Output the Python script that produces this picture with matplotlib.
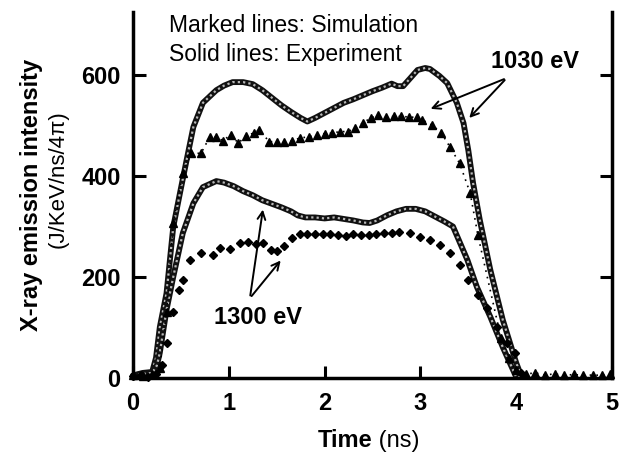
import matplotlib
matplotlib.use("Agg")
import matplotlib.pyplot as plt

plt.rcParams["font.family"] = ["Liberation Sans", "DejaVu Sans"]

# 1030 eV experiment (solid line)
exp1030_t = [0.00, 0.10, 0.20, 0.24, 0.28, 0.35, 0.42, 0.49, 0.56, 0.63, 0.73, 0.87,
             0.95, 1.04, 1.15, 1.25, 1.35, 1.45, 1.55, 1.65, 1.75, 1.82, 1.90, 2.00,
             2.10, 2.20, 2.30, 2.40, 2.50, 2.60, 2.70, 2.76, 2.82, 2.90, 2.97, 3.05, 3.10,
             3.20, 3.28, 3.38, 3.45, 3.50, 3.55, 3.62, 3.73, 3.86, 4.00, 4.05]
exp1030_v = [5, 10, 12, 40, 101, 168, 299, 366, 432, 497, 545, 570,
             579, 586, 586, 582, 570, 555, 540, 527, 515, 508, 515, 525,
             535, 545, 552, 560, 568, 575, 583, 578, 578, 595, 610, 614, 612,
             598, 584, 545, 505, 451, 386, 313, 214, 115, 30, 5]

# 1300 eV experiment (solid line)
exp1300_t = [0.00, 0.10, 0.20, 0.25, 0.28, 0.35, 0.42, 0.52, 0.63, 0.73, 0.87,
             0.95, 1.05, 1.15, 1.25, 1.35, 1.45, 1.55, 1.65, 1.72, 1.80, 1.90, 2.00, 2.10,
             2.20, 2.30, 2.40, 2.47, 2.55, 2.65, 2.75, 2.85, 2.95, 3.05, 3.15, 3.25, 3.34,
             3.49, 3.59, 3.73, 3.86, 4.00, 4.05]
exp1300_v = [5, 8, 10, 25, 50, 135, 200, 287, 346, 378, 390,
             387, 380, 370, 362, 352, 345, 338, 330, 322, 318, 318, 316, 318,
             315, 312, 308, 307, 312, 322, 330, 335, 335, 330, 320, 310, 300,
             234, 180, 121, 61, 2, 2]

# 1030 eV simulation (triangles)
sim1030_t = [0.00, 0.10, 0.20, 0.28, 0.35, 0.42, 0.52, 0.61, 0.71, 0.80, 0.87, 0.94,
             1.02, 1.10, 1.18, 1.26, 1.32, 1.42, 1.50, 1.58, 1.66, 1.74, 1.84, 1.92, 2.00,
             2.08, 2.16, 2.24, 2.32, 2.40, 2.48, 2.56, 2.64, 2.72, 2.80, 2.88, 2.96, 3.02,
             3.12, 3.22, 3.31, 3.41, 3.52, 3.60, 3.84, 3.92, 4.00, 4.10, 4.20, 4.30, 4.40,
             4.50, 4.60, 4.70, 4.80, 4.90, 4.98]
sim1030_v = [5, 3, 8, 20, 130, 307, 406, 445, 445, 477, 477, 470,
             482, 465, 480, 485, 492, 468, 468, 468, 470, 475, 478, 482, 484,
             485, 488, 488, 495, 505, 515, 520, 517, 518, 518, 517, 516, 511,
             501, 485, 457, 425, 366, 283, 80, 40, 15, 8, 10, 6, 8, 5, 7, 5, 6, 5, 8]

# 1300 eV simulation (diamonds)
sim1300_t = [0.00, 0.08, 0.16, 0.24, 0.30, 0.36, 0.42, 0.48, 0.52, 0.60, 0.71, 0.83,
             0.91, 1.01, 1.12, 1.20, 1.28, 1.36, 1.44, 1.50, 1.58, 1.66, 1.74, 1.82,
             1.90, 1.98, 2.06, 2.14, 2.22, 2.30, 2.38, 2.46, 2.54, 2.62, 2.70, 2.78, 2.89,
             3.00, 3.10, 3.20, 3.31, 3.41, 3.50, 3.60, 3.69, 3.80, 3.90, 3.99, 4.05]
sim1300_v = [3, 5, 2, 8, 25, 70, 130, 175, 194, 234, 247, 243,
             257, 255, 267, 270, 266, 268, 253, 252, 262, 278, 285, 285,
             286, 285, 285, 284, 282, 285, 284, 283, 285, 288, 288, 290, 287,
             280, 273, 263, 247, 224, 194, 164, 139, 101, 69, 49, 10]


def main() -> None:
    fig = plt.figure(figsize=(6.25, 4.59), dpi=100)
    ax = fig.add_axes([0.2128, 0.1765, 0.7664, 0.7975])

    # experiment: thick dark line with light beaded core
    for t, v in [(exp1030_t, exp1030_v), (exp1300_t, exp1300_v)]:
        ax.plot(t, v, color="#111111", lw=4.2, solid_capstyle="round", clip_on=False)
        ax.plot(t, v, color="#b8b8b8", lw=1.6, linestyle=(0, (1, 1.4)), clip_on=False)

    ax.plot(sim1030_t, sim1030_v, color="black", lw=1.2, linestyle=(0, (1, 3)),
            marker="^", ms=5.5, clip_on=False)
    ax.plot(sim1300_t, sim1300_v, color="black", lw=0, marker="D", ms=4.5, clip_on=False)

    ax.set_xlim(0, 5)
    ax.set_ylim(0, 725)
    ax.set_xticks([0, 1, 2, 3, 4, 5])
    ax.set_yticks([0, 200, 400, 600])
    for s in ["left", "bottom", "right"]:
        ax.spines[s].set_linewidth(2.5)
    ax.spines["top"].set_visible(False)
    ax.tick_params(direction="in", length=9, width=2.2, right=True, labelsize=17)
    ax.tick_params(axis="x", pad=10)
    ax.tick_params(axis="y", pad=9)
    for lab in ax.get_xticklabels() + ax.get_yticklabels():
        lab.set_fontweight("bold")

    ax.text(0.38, 699, "Marked lines: Simulation", fontsize=16.5, va="center")
    ax.text(0.38, 640, "Solid lines: Experiment", fontsize=16.5, va="center")

    ax.text(4.2, 626, "1030 eV", fontsize=17, fontweight="bold", ha="center", va="center")
    arr = dict(arrowstyle="->", color="black", lw=1.4, mutation_scale=14)
    ax.annotate("", xy=(3.08, 531), xytext=(3.9, 594), arrowprops=arr)
    ax.annotate("", xy=(3.49, 511), xytext=(3.9, 594), arrowprops=arr)

    ax.text(1.3, 119, "1300 eV", fontsize=17, fontweight="bold", ha="center", va="center")
    ax.annotate("", xy=(1.36, 339), xytext=(1.22, 158), arrowprops=arr)
    ax.annotate("", xy=(1.56, 237), xytext=(1.22, 158), arrowprops=arr)

    fig.text(0.051, 0.575, "X-ray emission intensity", rotation=90, fontsize=17,
             fontweight="bold", ha="center", va="center")
    fig.text(0.093, 0.61, "(J/KeV/ns/4\u03c0)", rotation=90, fontsize=16,
             ha="center", va="center")
    fig.text(0.595, 0.04, "Time", fontsize=17, fontweight="bold", ha="right", va="center")
    fig.text(0.595, 0.04, " (ns)", fontsize=17, ha="left", va="center")

    fig.savefig("out.png", dpi=100)
    plt.close(fig)


if __name__ == "__main__":
    main()
